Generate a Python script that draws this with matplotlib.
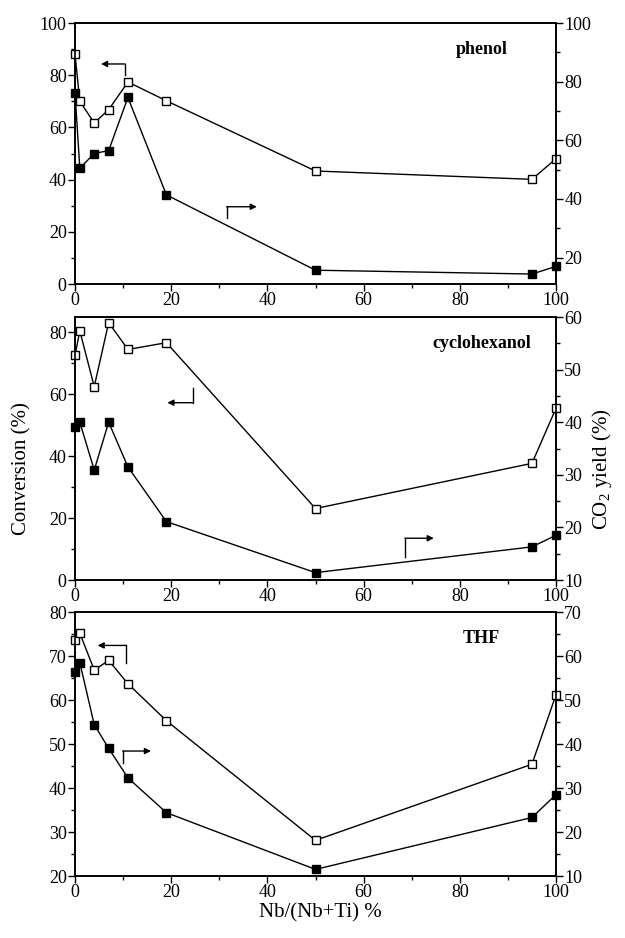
import matplotlib
matplotlib.use('Agg')
import matplotlib.pyplot as plt
from matplotlib.ticker import MultipleLocator

plt.rcParams['font.family'] = ['Liberation Serif', 'DejaVu Serif']
plt.rcParams['mathtext.fontset'] = 'custom'
plt.rcParams['mathtext.rm'] = 'Liberation Serif'

# Nb/(Nb+Ti) %
nb_content = [0, 1, 4, 7, 11, 19, 50, 95, 100]

# conversion (%), left axis, open squares
phenol_conv = [88, 70, 61.7, 66.8, 77.4, 70.2, 43.3, 40.1, 48]
cyclo_conv = [72.6, 80.5, 62.5, 83.2, 74.5, 76.7, 23.1, 37.7, 55.5]
thf_conv = [73.6, 75.2, 66.8, 69.0, 63.7, 55.3, 28.1, 45.4, 61.2]

# CO2 yield (%), right axis, filled squares
phenol_co2 = [76.2, 50.5, 55.5, 56.5, 74.6, 41.4, 15.7, 14.4, 17.0]
cyclo_co2 = [39.1, 40.0, 30.9, 40.0, 31.5, 21.1, 11.4, 16.3, 18.5]
thf_co2 = [56.3, 58.5, 44.4, 39.0, 32.3, 24.4, 11.5, 23.3, 28.5]

panels = [
    # name, conv, co2, left lim, left major, left minor, right lim, right major, right minor
    ('phenol', phenol_conv, phenol_co2, (0, 100), 20, 10, (11, 100), 20, 10),
    ('cyclohexanol', cyclo_conv, cyclo_co2, (0, 85), 20, 10, (10, 60), 10, 5),
    ('THF', thf_conv, thf_co2, (20, 80), 10, 5, (10, 70), 10, 5),
]

# arrow pointers (left-axis data coords): corner, end of vertical stub, arrow tip
arrows = [
    [((10.4, 84.3), (10.4, 80.0), (5.4, 84.3)), ((31.5, 29.6), (31.5, 25.3), (37.8, 29.6))],
    [((24.6, 57.3), (24.6, 62.1), (19.2, 57.3)), ((68.6, 13.5), (68.6, 7.5), (74.6, 13.5))],
    [((10.6, 72.4), (10.6, 68.4), (4.7, 72.4)), ((9.9, 48.4), (9.9, 45.7), (15.8, 48.4))],
]

fig = plt.figure(figsize=(6.25, 9.38), dpi=100)
W, H = 625, 938
boxes = [(23, 284), (317, 580), (612, 876)]

fs = 13
for i, (name, conv, co2, llim, lmaj, lmin, rlim, rmaj, rmin) in enumerate(panels):
    top, bot = boxes[i]
    ax = fig.add_axes([75 / W, 1 - bot / H, 481 / W, (bot - top) / H])
    ax2 = ax.twinx()

    ax.plot(nb_content, conv, '-s', color='black', lw=1.0, ms=5.5,
            mfc='white', mec='black', mew=1.0, zorder=3, clip_on=False)
    ax2.plot(nb_content, co2, '-s', color='black', lw=1.0, ms=5.5,
             mfc='black', mec='black', zorder=3, clip_on=False)

    ax.set_xlim(0, 100)
    ax.set_ylim(*llim)
    ax2.set_ylim(*rlim)
    ax.xaxis.set_major_locator(MultipleLocator(20))
    ax.xaxis.set_minor_locator(MultipleLocator(10))
    ax.yaxis.set_major_locator(MultipleLocator(lmaj))
    ax.yaxis.set_minor_locator(MultipleLocator(lmin))
    ax2.yaxis.set_major_locator(MultipleLocator(rmaj))
    ax2.yaxis.set_minor_locator(MultipleLocator(rmin))

    for a in (ax, ax2):
        a.tick_params(which='major', direction='out', length=5, width=1,
                      labelsize=fs, pad=1)
        a.tick_params(which='minor', direction='out', length=3, width=1)
        for s in a.spines.values():
            s.set_linewidth(1.2)
    ax.tick_params(top=False, right=False)

    ax.text(0.845, 0.9, name, transform=ax.transAxes, ha='center', va='center',
            fontsize=fs, fontweight='bold')

    for corner, stub, tip in arrows[i]:
        ax.plot([stub[0], corner[0]], [stub[1], corner[1]], color='black', lw=1.0)
        ax.annotate('', xy=tip, xytext=corner,
                    arrowprops=dict(arrowstyle='-|>', color='black', lw=1.0,
                                    mutation_scale=9, shrinkA=0, shrinkB=0))

fig.text(22 / W, 0.5, 'Conversion (%)', rotation=90, ha='center', va='center',
         fontsize=15)
fig.text(602 / W, 0.5, 'CO$_2$ yield (%)', rotation=90, ha='center', va='center',
         fontsize=15)
fig.text(320 / W, 1 - 913 / H, 'Nb/(Nb+Ti) %', ha='center', va='center',
         fontsize=15)

fig.savefig('out.png', dpi=100)
